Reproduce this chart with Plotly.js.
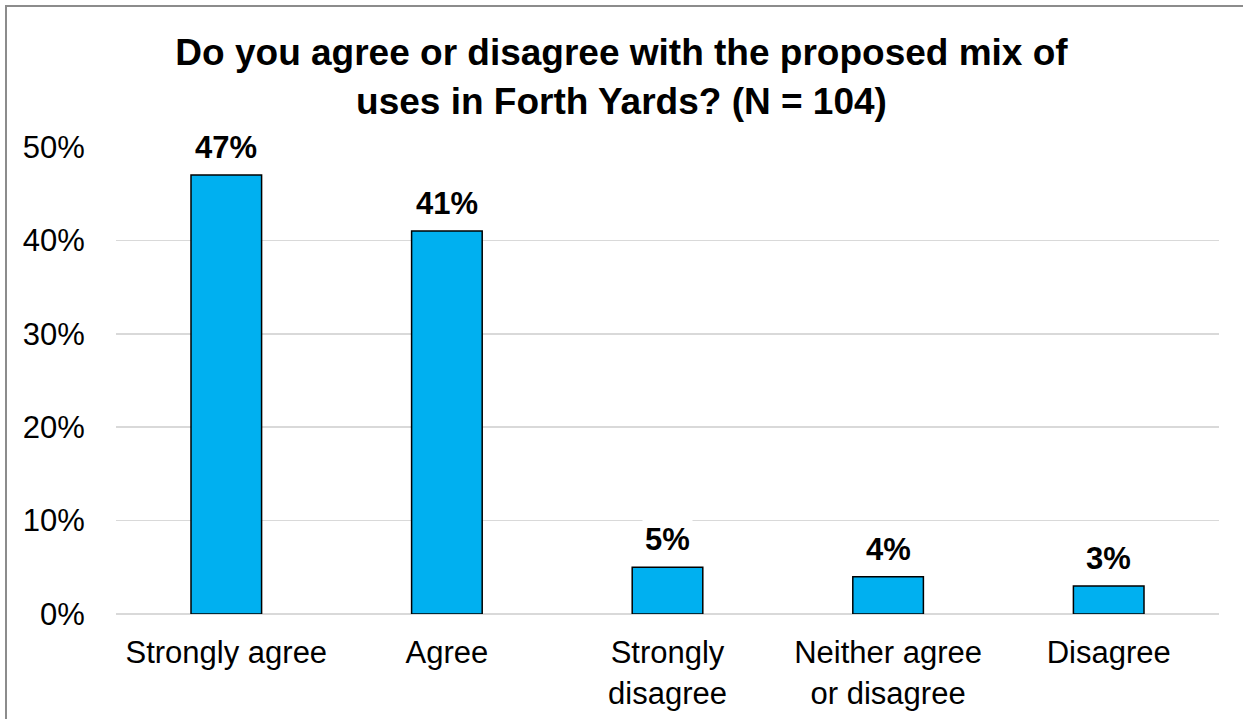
<!DOCTYPE html>
<html>
<head>
<meta charset="utf-8">
<script src="https://cdn.plot.ly/plotly-3.0.1.min.js"></script>
<style>
html,body{margin:0;padding:0;background:#fff;}
#wrap{position:relative;width:1243px;height:719px;overflow:hidden;}
#chart{width:1243px;height:719px;}
#frame{position:absolute;left:5px;top:5px;width:1300px;height:800px;border-left:2px solid #8c8c8c;border-top:2px solid #8c8c8c;pointer-events:none;}
</style>
</head>
<body>
<div id="wrap"><div id="chart"></div><div id="frame"></div></div>
<script>
const categories = ["Strongly agree", "Agree", "Strongly<br>disagree", "Neither agree<br>or disagree", "Disagree"];
const values = [47, 41, 5, 4, 3];
const labels = ["47%", "41%", "5%", "4%", "3%"];
const yTicks = [0, 10, 20, 30, 40, 50];
const yTickText = ["0%", "10%", "20%", "30%", "40%", "50%"];

const font = "Liberation Sans, Arial, sans-serif";

const trace = {
  type: "bar",
  x: categories,
  y: values,
  marker: {color: "#00B0F0", line: {color: "#000000", width: 1.5}},
  width: 0.32,
  hoverinfo: "skip"
};

const annotations = categories.map((c, i) => ({
  x: c, y: values[i], xref: "x", yref: "y",
  text: "<b>" + labels[i] + "</b>",
  showarrow: false, yanchor: "bottom", yshift: 7,
  bgcolor: "#ffffff", borderpad: 2,
  font: {family: font, size: 31, color: "#000000"}
}));

const layout = {
  width: 1243, height: 719,
  margin: {l: 116, r: 24, t: 147, b: 105},
  paper_bgcolor: "#ffffff", plot_bgcolor: "#ffffff",
  showlegend: false,
  title: {
    text: "<b>Do you agree or disagree with the proposed mix of<br>uses in Forth Yards? (N = 104)</b>",
    x: 0.5, xref: "container", xanchor: "center",
    y: 0.909, yref: "container", yanchor: "top",
    font: {family: font, size: 37, color: "#000000"}
  },
  xaxis: {
    type: "category",
    tickfont: {family: font, size: 31, color: "#000000"},
    ticks: "outside", ticklen: 11, tickcolor: "rgba(0,0,0,0)",
    showgrid: false, zeroline: false, showline: false,
    fixedrange: true
  },
  yaxis: {
    range: [0, 50],
    tickvals: yTicks, ticktext: yTickText,
    tickfont: {family: font, size: 31, color: "#000000"},
    ticks: "outside", ticklen: 24, tickcolor: "rgba(0,0,0,0)",
    showgrid: true, gridcolor: "#d9d9d9", gridwidth: 1.5,
    zeroline: true, zerolinecolor: "#d9d9d9", zerolinewidth: 1.5,
    showline: false, fixedrange: true
  },
  annotations: annotations
};

Plotly.newPlot("chart", [trace], layout, {displayModeBar: false, staticPlot: true});
</script>
</body>
</html>
